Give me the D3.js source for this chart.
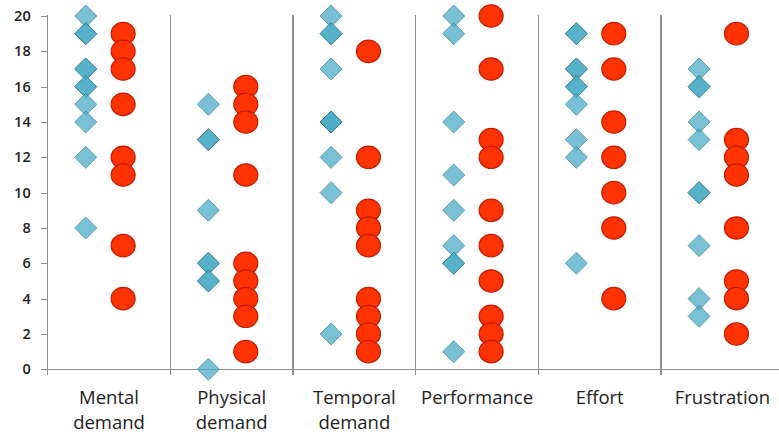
<!DOCTYPE html>
<html>
<head>
<meta charset="utf-8">
<script src="https://cdn.jsdelivr.net/npm/d3@7"></script>
<style>
  html, body { margin: 0; padding: 0; background: #fff; }
  svg { display: block; }
</style>
</head>
<body>
<svg id="chart" width="779" height="435"></svg>
<script>
// ---- data ----
const categories = [
  ["Mental", "demand"],
  ["Physical", "demand"],
  ["Temporal", "demand"],
  ["Performance"],
  ["Effort"],
  ["Frustration"]
];
const yTicks = [0, 2, 4, 6, 8, 10, 12, 14, 16, 18, 20];

// series A (blue diamonds) – duplicates are overlapping identical scores
const diamondValues = [
  [20, 19, 19, 17, 17, 16, 16, 15, 14, 12, 8],
  [15, 13, 13, 9, 6, 6, 5, 5, 0],
  [20, 19, 19, 17, 14, 14, 14, 12, 10, 2],
  [20, 19, 14, 11, 9, 7, 6, 6, 1],
  [19, 19, 17, 17, 16, 16, 15, 13, 12, 6],
  [17, 16, 16, 14, 13, 10, 10, 7, 4, 3]
];
// series B (red circles)
const circleValues = [
  [19, 18, 17, 15, 12, 11, 7, 4],
  [16, 15, 14, 11, 6, 5, 4, 3, 1],
  [18, 12, 9, 8, 7, 4, 3, 2, 1],
  [20, 17, 13, 12, 9, 7, 5, 3, 2, 1],
  [19, 17, 14, 12, 10, 8, 4],
  [19, 13, 12, 11, 8, 5, 4, 2]
];

// ---- layout ----
const svg = d3.select("#chart");
const x = d3.scaleLinear().domain([0.5, 6.5]).range([47.7, 783.7]);
const y = d3.scaleLinear().domain([0, 20]).range([369.3, 16]);
const diamondOffset = -0.19, circleOffset = 0.115;
const gridColor = "#8e8e8e";
const textColor = "#222";

// vertical separators (category boundaries) incl. y axis line, with tick below axis
const bounds = d3.range(0, categories.length + 1).map(i => i + 0.5);
svg.append("g").selectAll("line").data(bounds).join("line")
  .attr("x1", d => x(d)).attr("x2", d => x(d))
  .attr("y1", y(20) - 1).attr("y2", y(0) + 6)
  .attr("stroke", gridColor).attr("stroke-width", 1.2)
  .attr("shape-rendering", "crispEdges");

// x axis baseline
svg.append("line")
  .attr("x1", x(0.5)).attr("x2", x(6.5))
  .attr("y1", y(0)).attr("y2", y(0))
  .attr("stroke", gridColor).attr("stroke-width", 1.2)
  .attr("shape-rendering", "crispEdges");

// y axis ticks + labels
const yAxis = d3.axisLeft(y).tickValues(yTicks).tickSize(7).tickPadding(10).tickFormat(d3.format("d"));
const gy = svg.append("g").attr("transform", `translate(${x(0.5)},0)`).call(yAxis);
gy.select(".domain").remove();
gy.selectAll(".tick line").attr("stroke", gridColor).attr("stroke-width", 1.2).attr("shape-rendering", "crispEdges");
gy.selectAll(".tick text")
  .attr("fill", textColor)
  .style("font-family", "'Open Sans', sans-serif")
  .style("font-size", "14.5px")
  .style("font-weight", "600");

// category labels
const labels = svg.append("g").selectAll("text").data(categories).join("text")
  .attr("text-anchor", "middle")
  .attr("fill", textColor)
  .style("font-family", "'Open Sans', sans-serif")
  .style("font-size", "18.5px");
labels.each(function(lines, i) {
  const t = d3.select(this);
  lines.forEach((ln, j) => {
    t.append("tspan")
      .attr("x", x(i + 1))
      .attr("y", 404 + j * 25)
      .text(ln);
  });
});

// diamonds
const diamonds = [];
diamondValues.forEach((vals, i) => vals.forEach(v => diamonds.push({ c: i + 1, v })));
const ds = 11;
svg.append("g").selectAll("path").data(diamonds).join("path")
  .attr("transform", d => `translate(${x(d.c + diamondOffset)},${y(d.v)})`)
  .attr("d", `M0,${-ds}L${ds},0L0,${ds}L${-ds},0Z`)
  .attr("fill", "#4BACC6")
  .attr("stroke", "#2E7F94")
  .attr("stroke-width", 1)
  .attr("opacity", 0.75);

// circles
const circles = [];
circleValues.forEach((vals, i) => vals.forEach(v => circles.push({ c: i + 1, v })));
svg.append("g").selectAll("ellipse").data(circles).join("ellipse")
  .attr("cx", d => x(d.c + circleOffset))
  .attr("cy", d => y(d.v))
  .attr("rx", 12).attr("ry", 11.2)
  .attr("fill", "#FF3300")
  .attr("stroke", "#C41A00")
  .attr("stroke-width", 1.2);
</script>
</body>
</html>
